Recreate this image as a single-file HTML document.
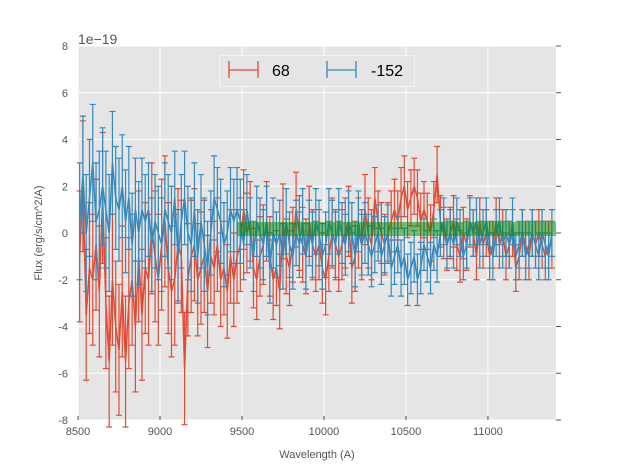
<!DOCTYPE html>
<html><head><meta charset="utf-8"><style>
body{margin:0;background:#fff;}
svg{display:block;font-family:"Liberation Sans","DejaVu Sans",sans-serif;}
</style></head><body>
<svg id="chart" width="617" height="467">
<rect x="78" y="46" width="478" height="374" fill="#e5e5e5"/>
<g id="grid"></g>
<rect id="band" fill="rgba(0,140,0,0.5)"/>
<g id="series"></g>
<g id="axes"></g>
<text x="78" y="44" font-size="14" fill="#555">1e−19</text>
<text x="317" y="458" font-size="11" fill="#555" text-anchor="middle">Wavelength (A)</text>
<text transform="translate(42,233) rotate(-90)" font-size="11" fill="#555" text-anchor="middle">Flux (erg/s/cm^2/A)</text>
<g>
<rect x="219.5" y="55.5" width="195" height="31" fill="#e5e5e5" stroke="#f4f4f4"/>
<g stroke="#e24a33" stroke-width="1.3">
<line x1="229" y1="70" x2="258" y2="70"/><line x1="229" y1="61" x2="229" y2="78"/><line x1="258" y1="61" x2="258" y2="78"/>
</g>
<text x="272" y="76" font-size="16" fill="#000">68</text>
<g stroke="#348abd" stroke-width="1.3">
<line x1="327" y1="70" x2="356" y2="70"/><line x1="327" y1="61" x2="327" y2="78"/><line x1="356" y1="61" x2="356" y2="78"/>
</g>
<text x="371" y="76" font-size="16" fill="#000">-152</text>
</g>
</svg>
<script>
const xStart = 8510, xStep = 20;
const redValues = [
-1.0,2.0,-3.5,-1.5,-2.0,-0.5,-2.5,1.5,-3.0,-5.5,
-2.0,-4.0,-5.0,-2.5,-5.5,-3.0,-2.0,-4.0,-1.0,-3.5,
-1.5,-2.0,0.2,-1.0,-2.0,-0.5,0.5,-1.5,-2.5,-2.0,
-0.5,-1.0,-5.8,-2.0,-1.0,-0.5,-2.0,-1.5,-1.0,-2.5,
-1.0,-1.5,-0.5,-2.0,-1.5,-2.5,-1.0,-2.0,-1.0,-0.5,
1.0,0.0,0.5,-1.5,-2.0,-1.0,-0.5,0.5,-1.0,-2.0,
-1.5,-2.5,0.5,-1.0,-1.5,-0.5,1.0,0.0,-0.5,-1.0,
0.5,-0.5,-1.0,-0.5,-1.5,-2.0,-1.0,0.0,-0.5,-1.0,
-0.5,0.0,0.5,-1.5,-1.0,0.0,-0.5,1.0,0.0,-0.5,
1.5,0.5,0.0,-0.5,0.0,0.5,1.0,0.5,1.5,2.0,
1.0,1.5,2.0,1.5,0.5,1.0,0.5,0.0,1.0,2.5,
0.5,0.0,-0.5,0.0,0.5,-0.5,-1.0,0.0,-0.5,0.5,
0.0,-1.0,0.5,-0.5,0.0,-1.0,-0.5,0.5,-0.5,0.0,
-1.0,-0.5,0.0,-1.5,-1.0,0.0,-0.5,-1.0,0.0,-0.5,
0.0,-0.5,-1.0,-0.5,-0.5];
const blueValues = [
0.5,2.5,0.0,1.5,3.0,0.5,1.0,2.0,1.0,0.0,
3.0,1.5,1.0,2.0,0.5,1.5,-0.5,1.0,0.0,1.0,
0.5,1.0,-0.5,0.5,0.0,-0.5,1.0,0.5,0.0,1.5,
-1.0,0.5,1.5,0.0,-0.5,1.0,-1.0,0.5,-0.5,-1.5,
0.0,1.5,1.0,0.5,-0.5,0.0,1.0,0.5,1.0,0.5,
-0.5,1.0,0.0,-1.0,0.5,0.0,-0.5,0.5,-1.5,0.0,
-0.5,0.0,-1.0,0.5,-0.5,-1.0,0.0,-0.5,0.5,-1.0,
0.0,-0.5,0.5,0.0,-1.0,-0.5,0.5,0.0,-0.5,0.5,
0.0,-0.5,0.5,0.0,-1.0,0.5,-0.5,0.0,-0.5,-1.0,
-0.5,0.0,-1.0,-0.5,0.0,-1.5,-1.0,-0.5,-1.5,-1.0,
-2.0,-1.5,-1.0,-2.0,-1.5,-0.5,-1.0,-1.5,-0.5,-1.0,
0.0,0.5,-0.5,0.0,-0.5,0.5,0.0,-1.0,-0.5,0.5,
0.0,0.5,-0.5,0.0,0.5,-0.5,-1.0,0.0,0.5,-0.5,
0.0,-0.5,0.5,-1.0,-0.5,0.0,-1.0,-0.5,0.0,-0.5,
-1.0,0.0,-0.5,-1.0,0.0];
// error half-widths per block of 10 points
const redErrBlocks = [2.8,2.8,2.8,2.4,2.0,1.7,1.6,1.5,1.5,1.3,1.2,1.1,1.0,1.0,1.0];
const blueErrBlocks = [2.5,2.2,2.0,2.0,1.8,1.5,1.4,1.4,1.3,1.2,1.1,1.0,1.0,1.0,1.0];
const bandRange = [9470, 11415, 0.47, -0.13];
const xTicks = [8500,9000,9500,10000,10500,11000];
const yTicks = [-8,-6,-4,-2,0,2,4,6,8];

const X0=78,X1=556,Y0=46,Y1=420,XMIN=8500,XMAX=11415,YMIN=-8,YMAX=8;
const sx=v=>X0+(v-XMIN)/(XMAX-XMIN)*(X1-X0);
const sy=v=>Y1-(v-YMIN)/(YMAX-YMIN)*(Y1-Y0);
const NS='http://www.w3.org/2000/svg';
function mk(tag,attrs,parent){const e=document.createElementNS(NS,tag);for(const k in attrs)e.setAttribute(k,attrs[k]);parent.appendChild(e);return e;}
const grid=document.getElementById('grid'),axes=document.getElementById('axes'),series=document.getElementById('series');
xTicks.forEach(t=>{
 const g=mk('line',{x1:sx(t),x2:sx(t),y1:Y0,y2:Y1,stroke:'#fff','stroke-width':1},grid);
 
 
 const tk=mk('line',{x1:sx(t),x2:sx(t),y1:Y1,y2:Y1-4,stroke:'#555'},axes);
 
 
 const tx=mk('text',{x:sx(t),y:Y1+15,'font-size':11,fill:'#555','text-anchor':'middle'},axes);
 tx.textContent=t;
 
 
});
yTicks.forEach(t=>{
 const g=mk('line',{x1:X0,x2:X1,y1:sy(t),y2:sy(t),stroke:'#fff','stroke-width':1},grid);
 
 
 const tk=mk('line',{x1:X1,x2:X1+5,y1:sy(t),y2:sy(t),stroke:'#555'},axes);
 
 
 const tx=mk('text',{x:X0-10,y:sy(t)+4,'font-size':11,fill:'#555','text-anchor':'end'},axes);
 tx.textContent=t;
 
 
});
const band=document.getElementById('band');
band.setAttribute('x',sx(bandRange[0]));band.setAttribute('width',sx(bandRange[1])-sx(bandRange[0]));
band.setAttribute('y',sy(bandRange[2]));band.setAttribute('height',sy(bandRange[3])-sy(bandRange[2]));
function draw(vals,errs,color,name){
 const g=mk('g',{stroke:color,'stroke-width':1.2,fill:'none'},series);
 
 
 let d='';
 vals.forEach((v,i)=>{
  const x=sx(xStart+i*xStep),e=errs[Math.floor(i/10)];
  const t=sy(v+e),b=sy(v-e);
  const eb=mk('path',{d:`M${x},${t}V${b}M${x-3},${t}H${x+3}M${x-3},${b}H${x+3}`},g);
  
  
  d+=(i?'L':'M')+x+','+sy(v);
 });
 const ln=mk('path',{d:d,'stroke-width':1.5},g);
 
 
}
draw(redValues,redErrBlocks,'#e24a33','series-68');
draw(blueValues,blueErrBlocks,'#348abd','series-152');
series.parentNode.insertBefore(band,series.nextSibling);
</script>
</body></html>
